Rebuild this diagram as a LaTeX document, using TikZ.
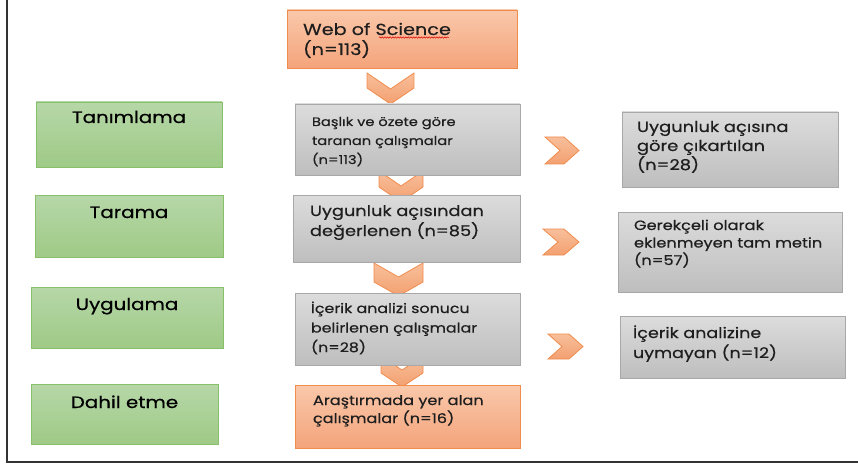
\documentclass[tikz,border=0pt]{standalone}
\usepackage{fontspec}
\setmainfont[FakeStretch=1.2,FakeBold=0.5]{Poppins}
\usetikzlibrary{decorations.pathmorphing}
\definecolor{orbd}{HTML}{F08C4E}
\definecolor{ortop}{HTML}{F9C8AA}
\definecolor{orbot}{HTML}{F4A47B}
\definecolor{chtop}{HTML}{F8BF9B}
\definecolor{chbot}{HTML}{F3A070}
\definecolor{grtop}{HTML}{DCDCDC}
\definecolor{grbot}{HTML}{BEBEBE}
\definecolor{grbd}{HTML}{A8A8A8}
\definecolor{gntop}{HTML}{B6D7A8}
\definecolor{gnbot}{HTML}{9FCA86}
\definecolor{gnbd}{HTML}{88C06A}
\definecolor{txt}{HTML}{1E1E1E}
\definecolor{framec}{HTML}{333333}
% w h padx base bs text
\newcommand\bxt[6]{\parbox[t][#2pt][t]{#1pt}{\raggedright\leftskip=#3pt\relax\baselineskip=#5pt\relax\lineskiplimit=-30pt\relax\vspace*{\dimexpr#4pt-#5pt\relax}\hbox{}#6\par}}
% centred: w h base text
\newcommand\bxc[4]{\parbox[t][#2pt][t]{#1pt}{\centering\vspace*{\dimexpr#3pt-20pt\relax}\hbox{}\baselineskip=20pt\relax\lineskiplimit=-30pt\relax#4\par}}
\tikzset{
  bx/.style={anchor=north west, inner sep=0pt, outer sep=0pt, draw, line width=0.9pt},
  orbox/.style={bx, draw=orbd, top color=ortop, bottom color=orbot, text=txt},
  grbox/.style={bx, draw=grbd, top color=grtop, bottom color=grbot, text=txt},
  gnbox/.style={bx, draw=gnbd, top color=gntop, bottom color=gnbot, text=black},
  chev/.style={draw=orbd, line width=0.8pt, top color=chtop, bottom color=chbot, line join=miter},
  pics/dchev/.style n args={3}{code={\path[chev] (0,0) -- (#1/2,#3) -- (#1,0) -- (#1,#2-#3) -- (#1/2,#2) -- (0,#2-#3) -- cycle;}},
  pics/rchev/.style n args={3}{code={\path[chev] (0,0) -- (#1-#3,0) -- (#1,#2/2) -- (#1-#3,#2) -- (0,#2) -- (#3,#2/2) -- cycle;}},
}
\begin{document}
\begin{tikzpicture}[x=1pt,y=-1pt]
\useasboundingbox (0,0) rectangle (858,465);
% frame
\draw[framec, line width=1.4pt] (7,0) -- (7,462) -- (858,462);
% chevrons (behind boxes)
\pic at (367,73) {dchev={47}{31}{16}};
\pic at (379,171) {dchev={44}{31}{15}};
\pic at (374,263) {dchev={49}{33}{14}};
\pic at (381,356) {dchev={42}{31}{14}};
\pic at (545,137) {rchev={34}{27}{15}};
\pic at (543,229) {rchev={36}{26}{15}};
\pic at (548,334) {rchev={35}{25}{14}};
% central column
\node[orbox, font=\fontsize{16}{20}\selectfont] (wos) at (287,10)
  {\bxt{230}{58}{16}{25}{20}{\mbox{Web of Science}\\\mbox{(n=113)}}};
\node[grbox, font=\fontsize{12.2}{19}\selectfont] (s1) at (295,104)
  {\bxt{225}{71}{17}{22}{19}{\mbox{Başlık ve özete göre}\\\mbox{taranan çalışmalar}\\\mbox{(n=113)}}};
\node[grbox, font=\fontsize{14.8}{20}\selectfont] (s2) at (293,195)
  {\bxt{227}{67}{17}{21}{20}{\mbox{Uygunluk açısından}\\\mbox{değerlenen (n=85)}}};
\node[grbox, font=\fontsize{13.2}{19}\selectfont] (s3) at (295,293)
  {\bxt{225}{72}{16}{20}{19.5}{\mbox{İçerik analizi sonucu}\\\mbox{belirlenen çalışmalar}\\\mbox{(n=28)}}};
\node[orbox, font=\fontsize{13.4}{18}\selectfont] (s4) at (295,385)
  {\bxt{225}{63}{18}{20}{18}{\mbox{Araştırmada yer alan}\\\mbox{çalışmalar (n=16)}}};
% right column
\node[grbox, font=\fontsize{14.9}{19}\selectfont] (r1) at (622,112)
  {\bxt{216}{75}{15}{20}{19}{\mbox{Uygunluk açısına}\\\mbox{göre çıkartılan}\\\mbox{(n=28)}}};
\node[grbox, font=\fontsize{13.5}{17.5}\selectfont] (r2) at (618,212)
  {\bxt{224}{80}{16}{18}{17.5}{\mbox{Gerekçeli olarak}\\\mbox{eklenmeyen tam metin}\\\mbox{(n=57)}}};
\node[grbox, font=\fontsize{14.6}{20}\selectfont] (r3) at (620,316)
  {\bxt{225}{62}{13}{22}{20}{\mbox{İçerik analizine}\\\mbox{uymayan (n=12)}}};
% left column
\node[gnbox, font=\fontsize{16.5}{20}\selectfont] (g1) at (36,102) {\bxc{186}{65}{21}{Tanımlama}};
\node[gnbox, font=\fontsize{16.5}{20}\selectfont] (g2) at (35,195) {\bxc{188}{62}{23}{Tarama}};
\node[gnbox, font=\fontsize{16.5}{20}\selectfont] (g3) at (31,287) {\bxc{192}{61}{23}{Uygulama}};
\node[gnbox, font=\fontsize{16.5}{20}\selectfont] (g4) at (31,384) {\bxc{187}{60}{24}{Dahil etme}};
% spell-check underline
\coordinate (u1) at (379,37.5);
\coordinate (u2) at (449,37.5);
\draw[red!85!black, line width=0.5pt, decorate, decoration={snake, amplitude=0.7pt, segment length=2.6pt}] (u1) -- (u2);
\end{tikzpicture}
\end{document}
